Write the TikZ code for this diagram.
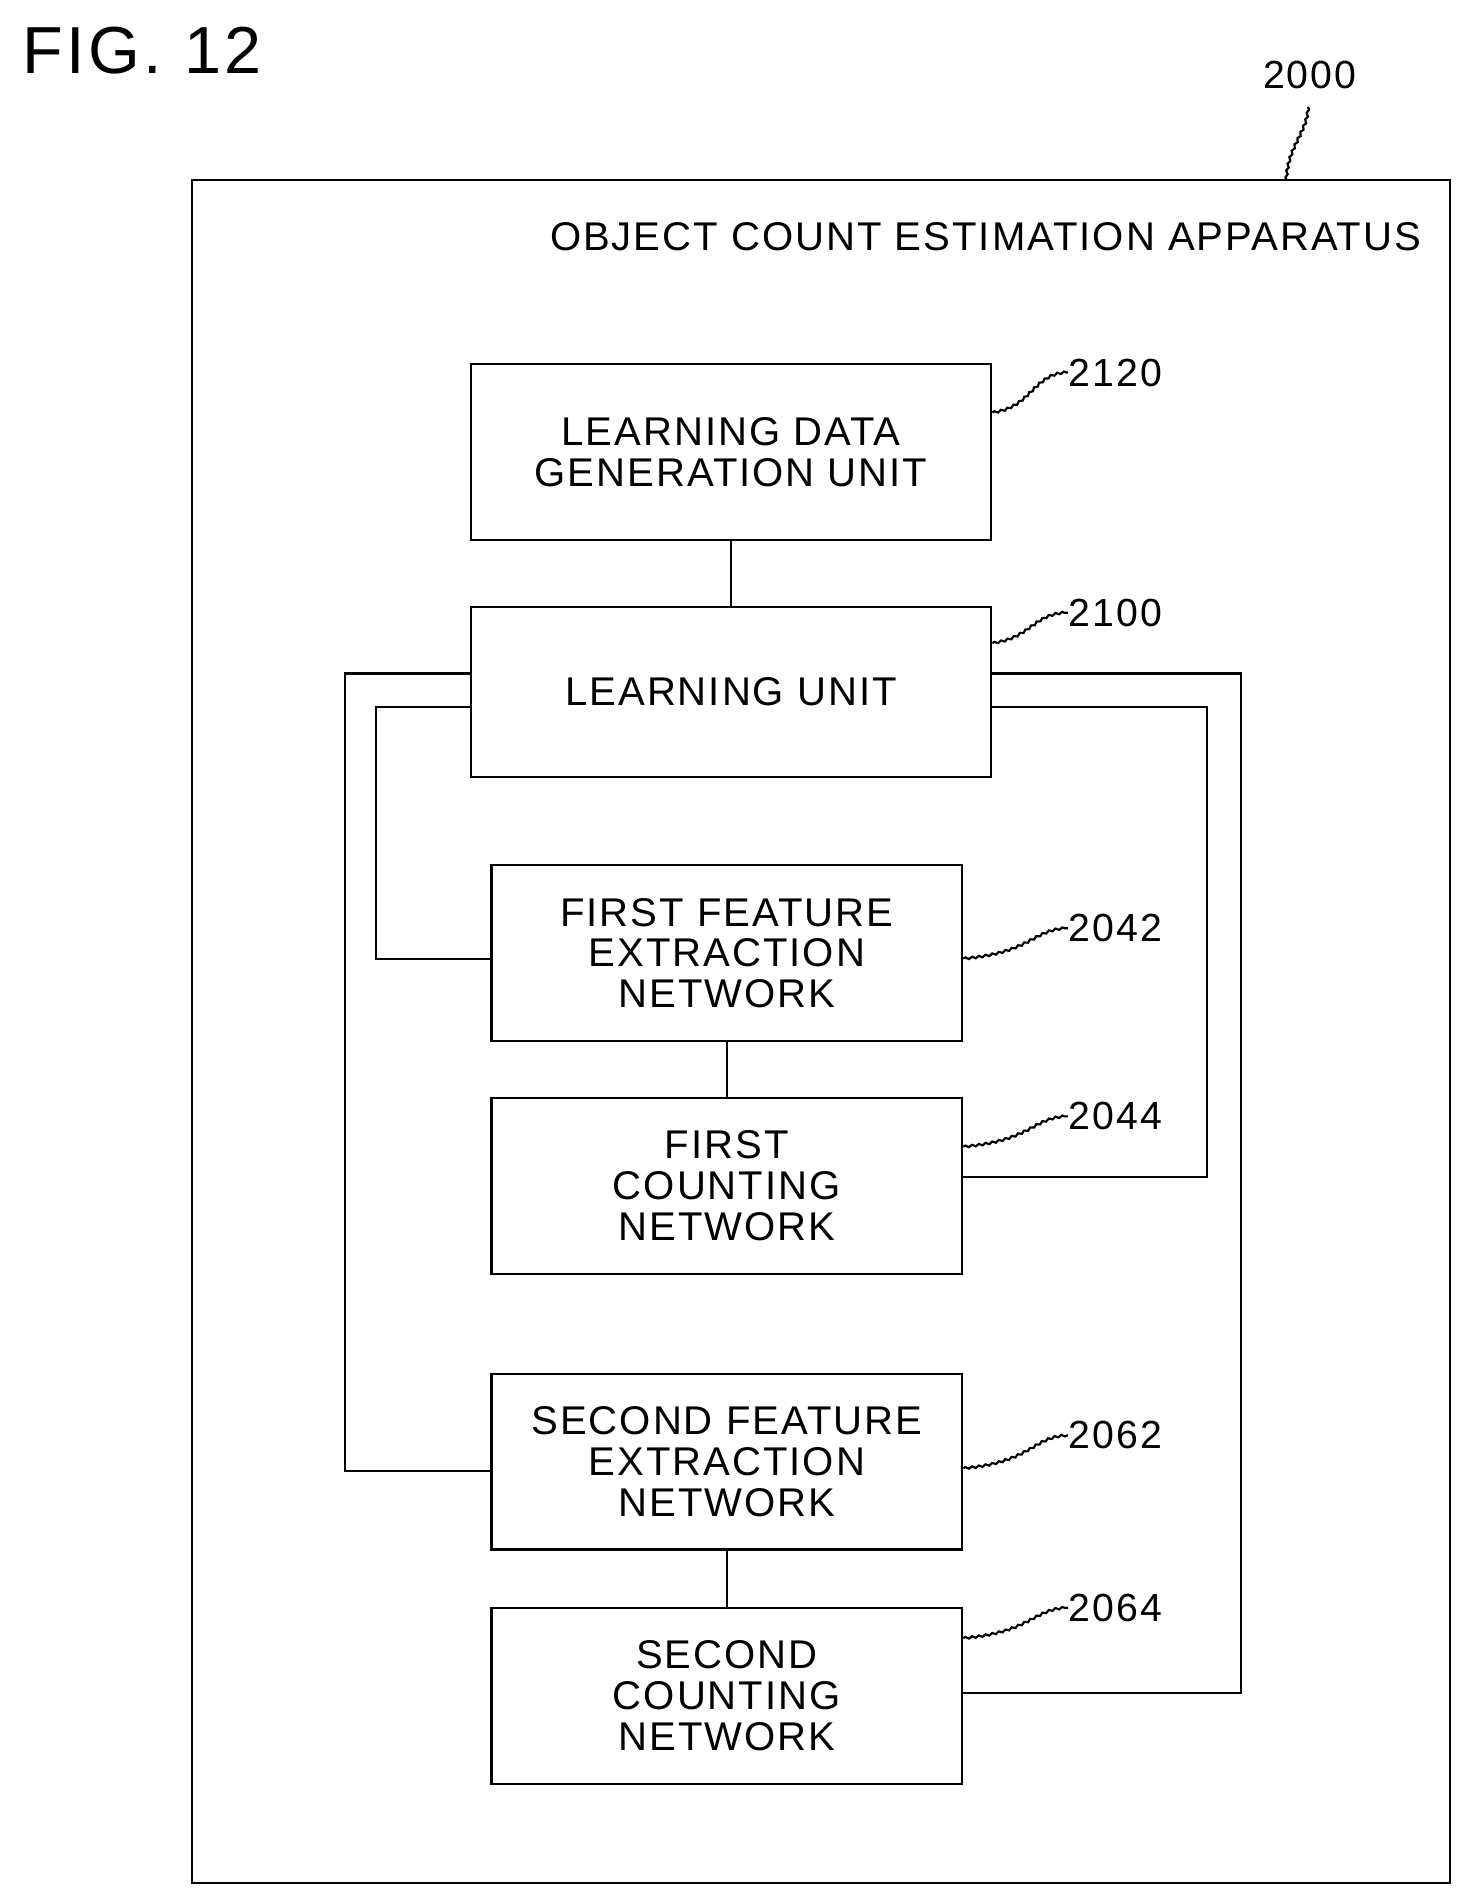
\documentclass[tikz,border=0pt]{standalone}
\usepackage{fontspec}
\setmainfont{Liberation Sans}[LetterSpace=5]
\usetikzlibrary{decorations.pathmorphing}
\begin{document}
\begin{tikzpicture}[x=0.05cm,y=-0.05cm,line width=2.5pt,
 box/.style={draw,align=center,font=\fontsize{47}{48}\selectfont,inner sep=0pt},
 lbl/.style={font=\fontsize{46}{48}\selectfont,anchor=west,inner sep=0pt},
 lead/.style={decorate,decoration={snake,amplitude=1.2pt,segment length=8pt}}]
\useasboundingbox (0,0) rectangle (1210,1565);
\node[font=\fontsize{78}{80}\selectfont,anchor=west,inner sep=0pt] (fig) at (18,42) {FIG. 12};
\draw (158,148) rectangle (1195,1552);
\coordinate (outtop) at (1060,148);
\node[lbl] (l2000) at (1040,62) {2000};
\draw[lead] (outtop) .. controls (1062,120) and (1078,110) .. (1078,88);
\node[anchor=east,inner sep=0pt,font=\fontsize{47}{48}\selectfont] (title) at (1172,195) {OBJECT COUNT ESTIMATION APPARATUS};
\node[box,minimum width=21.45cm,minimum height=7.25cm] (b2120) at (602.5,372.5) {LEARNING DATA\\GENERATION UNIT};
\node[box,minimum width=21.45cm,minimum height=7cm] (b2100) at (602.5,570) {LEARNING UNIT};
\node[box,minimum width=19.4cm,minimum height=7.25cm] (b2042) at (599,785.5) {FIRST FEATURE\\EXTRACTION\\NETWORK};
\node[box,minimum width=19.4cm,minimum height=7.25cm] (b2044) at (599,977.5) {FIRST\\COUNTING\\NETWORK};
\node[box,minimum width=19.4cm,minimum height=7.25cm] (b2062) at (599,1204.5) {SECOND FEATURE\\EXTRACTION\\NETWORK};
\node[box,minimum width=19.4cm,minimum height=7.25cm] (b2064) at (599,1397.5) {SECOND\\COUNTING\\NETWORK};
\draw (b2120) -- (b2100);
\draw (b2042) -- (b2044);
\draw (b2062) -- (b2064);
\draw (b2100.west |- 0,555) -| (284,1212) -- (b2062.west |- 0,1212);
\draw (b2100.west |- 0,583) -| (310,790) -- (b2042.west |- 0,790);
\draw (b2100.east |- 0,555) -| (1023,1395) -- (b2064.east |- 0,1395);
\draw (b2100.east |- 0,583) -| (995,970) -- (b2044.east |- 0,970);
\foreach \b/\n/\y/\ly in {b2120/2120/340/307,b2100/2100/530/505,b2042/2042/790/765,b2044/2044/945/920,b2062/2062/1210/1183,b2064/2064/1350/1325}{
 \node[lbl] (l\n) at (880,\ly) {\n};
 \draw[lead] (\b.east |- 0,\y) .. controls (850,\y-5) and (850,\ly) .. (l\n.west);
}
\end{tikzpicture}
\end{document}
